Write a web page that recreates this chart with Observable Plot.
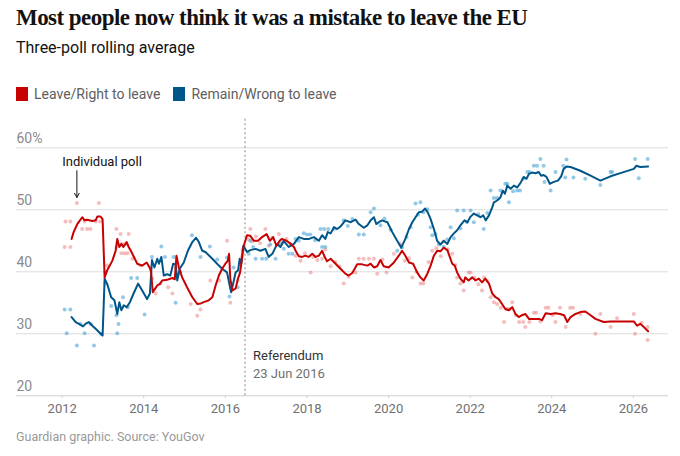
<!DOCTYPE html>
<html>
<head>
<meta charset="utf-8">
<script src="https://cdn.jsdelivr.net/npm/d3@7"></script>
<script src="https://cdn.jsdelivr.net/npm/@observablehq/plot@0.6"></script>
<style>
  html, body { margin: 0; padding: 0; background: #fff; }
  #wrap { position: relative; width: 680px; height: 456px; overflow: hidden; font-family: Roboto, "Noto Sans", sans-serif; }
  #title { position: absolute; left: 16px; top: 4px; font-family: "Liberation Serif", serif; font-weight: 700; font-size: 23px; line-height: 28px; color: #121212; letter-spacing: -0.55px; white-space: nowrap; }
  #subtitle { position: absolute; left: 16px; top: 38px; font-size: 16px; line-height: 20px; color: #121212; }
  #legend { position: absolute; left: 16px; top: 85px; font-size: 14px; line-height: 18px; color: #606060; display: flex; align-items: center; }
  .sw { display: inline-block; width: 12px; height: 14px; margin-right: 6px; }
  .item { display: flex; align-items: center; margin-right: 13px; }
  #chart { position: absolute; left: 0; top: 115px; }
  #caption { position: absolute; left: 16px; top: 429px; font-size: 12.5px; line-height: 16px; color: #999; }
</style>
</head>
<body>
<div id="wrap">
  <div id="title">Most people now think it was a mistake to leave the EU</div>
  <div id="subtitle">Three-poll rolling average</div>
  <div id="legend">
    <span class="item"><span class="sw" style="background:#c70000"></span>Leave/Right to leave</span>
    <span class="item"><span class="sw" style="background:#005689"></span>Remain/Wrong to leave</span>
  </div>
  <div id="chart"></div>
  <div id="caption">Guardian graphic. Source: YouGov</div>
</div>
<script>
// Rolling averages (decimal year, percent)
const leaveAvg = [
[2012.23,45.3],[2012.28,46.4],[2012.37,47.7],[2012.49,48.8],[2012.55,48.3],[2012.61,48.4],[2012.74,48.2],[2012.82,48.3],[2012.86,48.9],[2012.94,48.9],[2012.99,48.5],
[2013.04,39.1],[2013.10,40.2],[2013.23,41.8],[2013.31,43.4],[2013.35,45.3],[2013.40,44.0],[2013.45,44.5],[2013.50,44.0],[2013.58,44.8],[2013.63,44.0],[2013.72,42.9],[2013.84,41.3],[2013.96,41.0],
[2014.07,41.5],[2014.15,40.6],[2014.18,39.9],[2014.22,36.7],[2014.27,37.2],[2014.33,37.8],[2014.39,38.0],[2014.45,38.6],[2014.57,38.7],[2014.70,39.0],[2014.76,38.8],[2014.80,42.6],[2014.86,40.7],[2014.94,39.1],
[2015.06,37.5],[2015.19,35.9],[2015.31,34.8],[2015.40,34.9],[2015.47,35.1],[2015.59,35.4],[2015.68,35.9],[2015.76,37.8],[2015.84,39.4],[2015.92,40.5],
[2016.00,41.3],[2016.06,41.8],[2016.09,42.9],[2016.12,38.9],[2016.17,37.0],[2016.25,37.3],[2016.31,38.9],[2016.36,39.9],[2016.39,41.3],[2016.44,44.0],[2016.53,45.9],[2016.61,45.8],[2016.70,45.0],[2016.80,45.0],[2016.90,45.6],
[2017.01,46.1],[2017.09,45.0],[2017.17,45.6],[2017.25,44.2],[2017.33,45.0],[2017.38,45.3],[2017.50,45.0],[2017.60,44.5],[2017.68,44.0],[2017.72,43.4],[2017.80,42.5],[2017.88,42.4],[2017.96,42.6],
[2018.04,42.4],[2018.13,42.9],[2018.21,42.4],[2018.29,42.6],[2018.37,43.4],[2018.42,42.6],[2018.49,41.7],[2018.58,42.1],[2018.70,41.3],[2018.82,40.5],[2018.94,39.7],
[2019.02,39.4],[2019.11,39.8],[2019.23,41.2],[2019.35,41.2],[2019.48,41.0],[2019.56,41.3],[2019.64,40.7],[2019.72,40.9],[2019.80,41.9],[2019.88,40.9],
[2020.00,40.7],[2020.13,41.5],[2020.25,42.6],[2020.33,43.4],[2020.41,42.6],[2020.50,41.5],[2020.60,41.3],[2020.70,39.9],[2020.78,39.1],[2020.86,38.6],[2020.95,39.7],
[2021.03,41.0],[2021.11,42.6],[2021.19,43.4],[2021.27,43.3],[2021.35,43.9],[2021.44,43.5],[2021.50,42.4],[2021.56,41.3],[2021.62,41.0],[2021.68,39.9],[2021.76,38.9],[2021.84,38.3],[2021.88,39.1],[2021.96,38.6],
[2022.05,39.1],[2022.13,38.6],[2022.21,38.9],[2022.29,38.3],[2022.37,38.9],[2022.46,38.1],[2022.54,36.5],[2022.62,35.9],[2022.70,35.6],[2022.78,34.8],[2022.86,34.0],[2022.95,33.8],
[2023.03,34.3],[2023.11,33.2],[2023.19,32.7],[2023.27,33.0],[2023.35,33.2],[2023.44,32.4],[2023.56,32.4],[2023.68,32.4],[2023.76,32.2],[2023.85,33.3],[2023.97,33.2],
[2024.09,33.3],[2024.20,33.2],[2024.30,33.0],[2024.38,31.9],[2024.46,32.7],[2024.58,33.2],[2024.70,33.5],[2024.82,33.6],[2024.95,33.0],
[2025.07,32.4],[2025.27,31.9],[2025.44,32.0],[2025.76,32.0],[2026.01,32.0],[2026.09,31.3],[2026.17,31.6],[2026.27,31.0],[2026.36,30.4]
];
const remainAvg = [
[2012.23,32.7],[2012.33,31.9],[2012.41,31.6],[2012.51,31.2],[2012.57,31.6],[2012.65,31.9],[2012.74,31.3],[2012.82,30.8],[2012.90,30.3],[2012.99,29.7],
[2013.04,38.9],[2013.10,38.1],[2013.20,35.9],[2013.28,35.4],[2013.35,33.2],[2013.40,35.1],[2013.45,33.8],[2013.51,34.6],[2013.58,34.3],[2013.66,35.1],[2013.75,36.5],[2013.86,38.1],[2013.96,37.0],
[2014.08,35.6],[2014.15,36.5],[2014.20,41.9],[2014.26,40.7],[2014.33,42.1],[2014.37,41.3],[2014.43,42.4],[2014.49,39.4],[2014.57,39.6],[2014.65,39.4],[2014.72,41.3],[2014.78,41.2],[2014.82,38.6],[2014.88,40.5],[2014.98,41.5],
[2015.08,43.4],[2015.19,44.8],[2015.28,45.5],[2015.35,44.8],[2015.43,43.4],[2015.51,43.2],[2015.68,42.1],[2015.84,41.0],[2015.92,40.5],
[2016.04,39.9],[2016.08,38.6],[2016.14,36.7],[2016.19,38.1],[2016.25,39.9],[2016.31,40.2],[2016.35,42.1],[2016.39,41.3],[2016.44,44.2],[2016.53,43.2],[2016.61,43.5],[2016.74,43.7],[2016.86,43.4],[2016.98,43.7],
[2017.06,42.4],[2017.15,42.9],[2017.27,44.5],[2017.35,44.0],[2017.43,45.0],[2017.55,44.0],[2017.68,44.5],[2017.80,45.6],[2017.92,45.3],
[2018.05,45.3],[2018.17,45.6],[2018.29,45.0],[2018.37,45.9],[2018.45,45.3],[2018.51,46.4],[2018.58,46.2],[2018.66,47.2],[2018.74,46.9],[2018.82,47.3],[2018.94,48.3],
[2019.07,48.0],[2019.19,48.4],[2019.27,47.7],[2019.39,47.1],[2019.48,47.5],[2019.56,48.3],[2019.64,48.8],[2019.70,47.7],[2019.76,48.0],[2019.84,48.3],[2019.97,48.0],
[2020.09,46.4],[2020.21,45.0],[2020.31,43.9],[2020.41,45.3],[2020.50,46.9],[2020.58,48.0],[2020.66,48.8],[2020.74,49.6],[2020.82,49.7],[2020.89,50.2],[2020.96,49.6],
[2021.03,48.5],[2021.11,46.9],[2021.19,45.0],[2021.27,44.4],[2021.35,45.0],[2021.44,44.5],[2021.52,45.6],[2021.60,46.2],[2021.68,46.7],[2021.76,47.5],[2021.86,48.3],[2021.93,48.0],
[2022.01,48.9],[2022.09,49.4],[2022.17,49.1],[2022.25,48.8],[2022.32,49.1],[2022.38,48.3],[2022.46,49.1],[2022.54,50.4],[2022.58,51.2],[2022.66,51.5],[2022.74,52.0],[2022.80,53.1],[2022.85,52.6],[2022.91,53.9],[2022.99,53.4],
[2023.07,53.9],[2023.15,53.6],[2023.23,54.3],[2023.31,55.3],[2023.38,55.0],[2023.44,55.8],[2023.52,56.0],[2023.60,55.9],[2023.68,56.1],[2023.74,55.5],[2023.80,55.6],[2023.87,55.3],[2023.95,54.2],
[2024.05,54.5],[2024.15,54.7],[2024.23,55.4],[2024.29,56.6],[2024.36,57.0],[2024.46,56.9],[2024.70,56.3],[2024.95,55.5],
[2025.19,54.7],[2025.44,55.4],[2025.72,56.0],[2026.01,56.6],[2026.07,57.1],[2026.17,56.9],[2026.36,57.0]
];
// Individual polls
const leavePolls = [
[2012.06,44.0],[2012.20,44.0],[2012.08,48.1],[2012.20,48.1],[2012.36,51.1],[2012.49,46.9],[2012.61,46.9],[2012.69,46.9],[2012.55,48.1],[2012.82,48.1],[2012.90,51.1],[2012.93,48.1],
[2013.10,41.0],[2013.05,40.0],[2013.33,46.9],[2013.43,46.1],[2013.33,44.0],[2013.63,46.1],[2013.48,44.5],[2013.55,44.5],[2013.45,43.0],[2013.53,43.0],[2013.60,43.0],[2013.72,42.1],[2013.92,41.0],
[2014.20,38.9],[2014.29,36.5],[2014.41,38.1],[2014.60,37.5],[2014.78,40.7],[2014.70,36.5],[2015.15,34.8],[2015.31,32.9],[2015.39,33.9],[2015.63,38.6],[2015.85,38.6],
[2016.04,45.0],[2016.12,35.0],[2016.30,38.6],[2016.40,42.4],
[2016.57,45.2],[2016.61,46.9],[2016.66,44.9],[2016.75,45.7],[2016.85,44.6],[2016.98,46.9],[2017.06,44.2],[2017.15,45.5],[2017.31,46.1],[2017.40,44.7],[2017.50,45.3],[2017.60,44.5],[2017.72,42.6],[2017.84,41.8],[2017.95,43.0],
[2018.09,39.9],[2018.15,42.4],[2018.25,41.9],[2018.37,42.1],[2018.45,43.6],[2018.58,40.9],[2018.70,41.6],[2018.80,40.9],[2018.90,38.1],
[2019.02,39.2],[2019.19,39.9],[2019.27,42.1],[2019.39,42.1],[2019.52,42.1],[2019.64,42.1],[2019.72,39.7],[2019.85,42.0],[2019.95,39.9],
[2020.13,42.9],[2020.29,44.5],[2020.40,41.8],[2020.50,42.2],[2020.58,39.1],[2020.68,40.0],[2020.78,38.1],[2020.85,38.1],[2020.98,41.6],
[2021.07,43.4],[2021.17,43.8],[2021.28,42.5],[2021.35,44.9],[2021.45,43.6],[2021.56,42.9],[2021.64,41.1],[2021.68,39.1],[2021.76,38.1],[2021.84,37.0],[2021.96,39.9],
[2022.01,39.9],[2022.10,39.1],[2022.20,38.0],[2022.29,37.0],[2022.34,39.1],[2022.42,38.5],[2022.50,35.9],[2022.58,35.1],[2022.66,34.8],[2022.75,34.2],[2022.83,31.9],[2022.90,34.0],[2022.96,34.0],
[2023.03,35.1],[2023.12,33.0],[2023.20,31.9],[2023.30,31.9],[2023.35,31.1],[2023.45,31.9],[2023.56,33.4],[2023.62,33.4],[2023.72,32.0],[2023.85,34.2],[2023.92,34.2],
[2024.02,33.0],[2024.09,31.9],[2024.20,34.2],[2024.34,31.1],[2024.45,34.2],[2024.52,34.2],[2024.70,33.2],
[2025.07,30.0],[2025.19,33.2],[2025.44,31.1],[2025.60,32.5],[2026.01,33.2],[2026.04,30.0],[2026.20,31.8],[2026.35,31.1],[2026.35,29.0]
];
const remainPolls = [
[2012.06,33.9],[2012.20,33.9],[2012.11,30.1],[2012.36,28.1],[2012.45,31.6],[2012.55,30.1],[2012.70,31.6],[2012.78,28.1],[2012.95,30.0],
[2013.06,38.1],[2013.20,34.5],[2013.35,30.1],[2013.38,31.6],[2013.33,33.0],[2013.49,35.9],[2013.61,34.3],[2013.69,39.0],[2013.84,39.0],
[2014.02,33.1],[2014.20,42.4],[2014.43,44.1],[2014.52,42.4],[2014.73,42.4],[2014.78,35.0],[2014.90,40.0],[2015.18,45.9],[2015.39,42.4],[2015.62,44.1],[2015.80,42.0],
[2016.04,42.3],[2016.20,40.7],[2016.10,36.0],[2016.30,37.5],[2016.42,43.5],
[2016.57,42.9],[2016.61,45.0],[2016.68,44.0],[2016.74,42.1],[2016.90,42.1],[2017.00,42.1],[2017.10,44.4],[2017.23,42.1],[2017.33,44.6],[2017.43,43.7],[2017.55,42.9],[2017.64,42.9],[2017.72,45.3],[2017.80,45.0],[2017.92,46.2],
[2018.00,46.0],[2018.08,46.0],[2018.20,45.1],[2018.33,46.9],[2018.37,44.0],[2018.42,46.9],[2018.45,44.0],[2018.52,46.9],[2018.66,46.9],[2018.90,48.3],
[2019.00,47.4],[2019.11,48.5],[2019.27,46.0],[2019.39,46.0],[2019.56,49.6],[2019.64,50.2],[2019.80,47.5],[2019.90,48.6],
[2020.05,46.8],[2020.21,43.4],[2020.33,43.9],[2020.44,45.6],[2020.54,47.2],[2020.66,51.0],[2020.72,49.2],[2020.78,51.2],[2020.85,49.6],[2020.95,50.1],
[2021.03,47.2],[2021.07,45.9],[2021.15,46.1],[2021.23,44.4],[2021.35,44.0],[2021.44,45.2],[2021.52,47.2],[2021.60,45.4],[2021.68,49.9],[2021.76,47.0],[2021.84,49.9],[2021.92,48.0],
[2022.01,49.9],[2022.09,48.0],[2022.20,49.3],[2022.33,46.9],[2022.42,49.5],[2022.50,53.1],[2022.58,51.9],[2022.66,51.9],[2022.74,53.1],[2022.86,54.2],[2022.91,54.2],[2022.95,51.2],
[2023.05,53.0],[2023.15,53.1],[2023.22,53.1],[2023.30,55.0],[2023.40,56.1],[2023.46,56.1],[2023.56,57.1],[2023.64,57.1],[2023.72,58.2],[2023.80,57.1],[2023.82,54.5],[2023.97,53.1],
[2024.09,56.1],[2024.28,57.1],[2024.36,58.1],[2024.33,55.2],[2024.53,55.2],[2024.82,55.0],[2025.19,54.0],[2025.44,56.1],[2025.48,56.1],[2026.04,58.2],[2026.13,55.1],[2026.35,58.2]
];
const xTicks = [2012, 2014, 2016, 2018, 2020, 2022, 2024, 2026];
const yTicks = [20, 30, 40, 50, 60];
const referendum = [2016.48];
const referendumLabels = [{text: "Referendum", y: 26.5, weight: 500, color: "#333"}, {text: "23 Jun 2016", y: 23.6, weight: 400, color: "#707070"}];
const pollNote = [{text: "Individual poll", x: 2012.0, y: 57.7}];
const pollArrow = [{x: 2012.36, y1: 56.3, y2: 52.0}];

const toRows = arr => arr.map(([year, value]) => ({year, value}));

const chart = Plot.plot({
  width: 680,
  height: 305,
  marginLeft: 16,
  marginRight: 12,
  marginTop: 32.3,
  marginBottom: 24.7,
  x: {domain: [2010.88, 2026.86], axis: null},
  y: {domain: [20, 60], axis: null},
  style: {fontFamily: "Roboto, 'Noto Sans', sans-serif", background: "#fff", overflow: "visible"},
  marks: [
    Plot.gridY(yTicks.filter(d => d > 20), {stroke: "#dcdcdc", strokeOpacity: 1}),
    Plot.ruleY([20], {stroke: "#cfcfcf"}),
    Plot.axisX({ticks: xTicks, tickFormat: d => String(d), tickSize: 3, tickPadding: 5, stroke: "#cfcfcf", fill: "#707070", fontSize: 13}),
    Plot.axisY({ticks: yTicks, tickSize: 0, tickPadding: 0, textAnchor: "start", dy: -9.5, tickFormat: d => d === 60 ? "60%" : String(d), fill: "#8a8a8a", fontSize: 14}),
    Plot.ruleX(referendum, {y1: 20, y2: 64.9, stroke: "#999", strokeDasharray: "2,2.5", strokeWidth: 1.2}),
    Plot.text(referendumLabels, {x: () => referendum[0], y: "y", text: "text", dx: 8, textAnchor: "start", fontSize: 13, fill: "color", fontWeight: "weight"}),
    Plot.dot(toRows(leavePolls), {x: "year", y: "value", r: 2, fill: "#ec7b7d", fillOpacity: 0.5, stroke: "none"}),
    Plot.dot(toRows(remainPolls), {x: "year", y: "value", r: 2, fill: "#3d9bd3", fillOpacity: 0.55, stroke: "none"}),
    Plot.line(toRows(remainAvg), {x: "year", y: "value", stroke: "#005689", strokeWidth: 2, curve: "linear"}),
    Plot.line(toRows(leaveAvg), {x: "year", y: "value", stroke: "#c70000", strokeWidth: 2, curve: "linear"}),
    Plot.text(pollNote, {x: "x", y: "y", text: "text", textAnchor: "start", fontSize: 13, fill: "#121212"}),
    Plot.arrow(pollArrow, {x1: "x", x2: "x", y1: "y1", y2: "y2", stroke: "#121212", strokeWidth: 1, headLength: 7})
  ]
});
document.getElementById("chart").appendChild(chart);
</script>
</body>
</html>
